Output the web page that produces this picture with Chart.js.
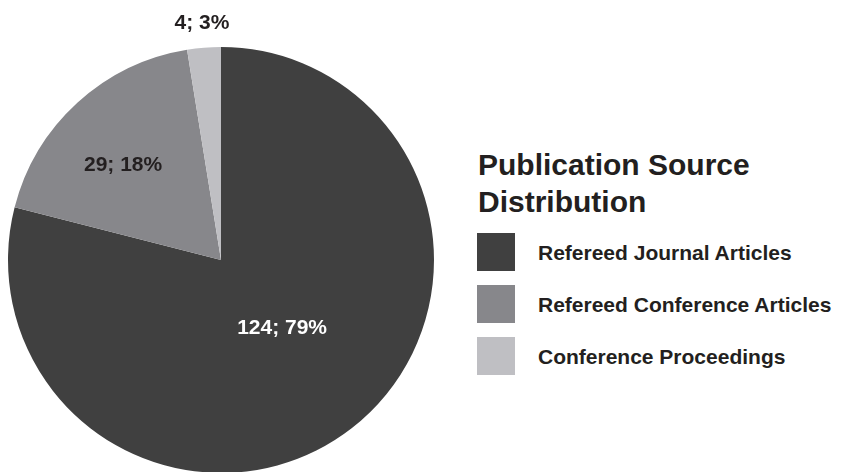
<!DOCTYPE html>
<html>
<head>
<meta charset="utf-8">
<script src="https://cdn.jsdelivr.net/npm/chart.js@4/dist/chart.umd.min.js"></script>
<style>
    html, body { margin: 0; padding: 0; background: #fff; overflow: hidden; }
    body { width: 841px; height: 472px; position: relative; font-family: "Liberation Sans", Arial, sans-serif; }
    #wrap { position: absolute; left: 0; top: 0; width: 444px; height: 480px; }
    #legend-title { position: absolute; left: 478px; top: 146px; font-size: 30px; line-height: 37px; font-weight: bold; color: #231f20; }
    .row { position: absolute; left: 477px; height: 38px; }
    .row .box { position: absolute; left: 0; top: 0; width: 38px; height: 38px; }
    .row .txt { position: absolute; left: 61px; top: 8px; font-size: 21px; line-height: 24px; font-weight: bold; color: #231f20; white-space: nowrap; }
</style>
</head>
<body>
<div id="wrap"><canvas id="pie"></canvas></div>
<div id="legend-title">Publication Source<br>Distribution</div>
<div id="legend"></div>
<script>
// Данные диаграммы
const categories = ['Refereed Journal Articles', 'Refereed Conference Articles', 'Conference Proceedings'];
const counts = [124, 29, 4];
const percents = [79, 18, 3];
const colors = ['#404040', '#87878b', '#bfbfc3'];

// Положение подписей: доля радиуса и сдвиг угла (градусы)
const labelStyle = [
    { r: 0.43, shift: -4, color: '#ffffff' },
    { r: 0.64, shift: -3.5, color: '#231f20' },
    { r: 1.117, shift: 0, color: '#231f20' }
];

const sliceLabels = {
    id: 'sliceLabels',
    afterDatasetsDraw(chart) {
        const ctx = chart.ctx;
        const meta = chart.getDatasetMeta(0);
        ctx.save();
        ctx.font = 'bold 21px "Liberation Sans", Arial, sans-serif';
        ctx.textAlign = 'center';
        ctx.textBaseline = 'middle';
        meta.data.forEach((arc, i) => {
            const st = labelStyle[i];
            const a = (arc.startAngle + arc.endAngle) / 2 + st.shift * Math.PI / 180;
            const x = arc.x + Math.cos(a) * arc.outerRadius * st.r;
            const y = arc.y + Math.sin(a) * arc.outerRadius * st.r;
            ctx.fillStyle = st.color;
            ctx.fillText(counts[i] + '; ' + percents[i] + '%', x, y);
        });
        ctx.restore();
    }
};

const chart = new Chart(document.getElementById('pie'), {
    type: 'pie',
    data: {
        labels: categories,
        datasets: [{
            data: counts,
            backgroundColor: colors,
            borderWidth: 0
        }]
    },
    options: {
        responsive: true,
        maintainAspectRatio: false,
        animation: false,
        layout: { padding: { left: 8, right: 10, top: 47, bottom: 7 } },
        plugins: {
            legend: { display: false },
            tooltip: { enabled: false }
        }
    },
    plugins: [sliceLabels]
});

// HTML-легенда справа
const legendEl = document.getElementById('legend');
categories.forEach((name, i) => {
    const row = document.createElement('div');
    row.className = 'row';
    row.style.top = (233 + i * 52) + 'px';
    row.innerHTML = `<div class="box" style="background:${colors[i]}"></div><span class="txt">${name}</span>`;
    legendEl.appendChild(row);
});
</script>
</body>
</html>
